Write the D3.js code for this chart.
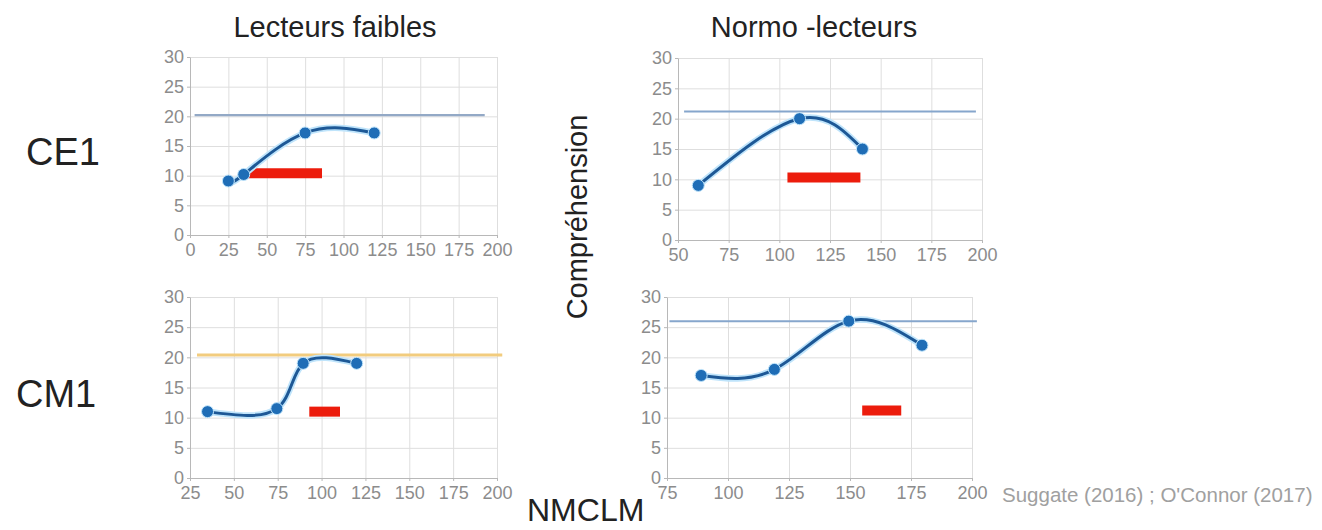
<!DOCTYPE html>
<html>
<head>
<meta charset="utf-8">
<script src="https://cdn.jsdelivr.net/npm/d3@7"></script>
<style>
  body { margin: 0; background: #fff; }
  svg { font-family: "Liberation Sans", Arial, sans-serif; }
  .axis text { fill: #8c8c8c; font-size: 18px; }
  .axis path, .axis line { stroke: #b8b8b8; }
  .grid line { stroke: #dedede; }
  .grid path { display: none; }
</style>
</head>
<body>
<div id="chart"></div>
<script>
// ---- data ----
var colTitles = ["Lecteurs faibles", "Normo -lecteurs"];
var rowLabels = ["CE1", "CM1"];
var yTicks = [0, 5, 10, 15, 20, 25, 30];

// CE1 - lecteurs faibles
var ticksCe1Faibles = [0, 25, 50, 75, 100, 125, 150, 175, 200];
var ce1FaiblesX = [25, 35, 75, 120];
var ce1FaiblesY = [9.1, 10.2, 17.2, 17.2];
var refCe1FaiblesX = [3, 192];
var refCe1FaiblesY = [20.2, 20.2];
var barCe1FaiblesX = [38, 86];
var barCe1FaiblesY = [10.4, 10.4];

// CE1 - normo-lecteurs
var ticksCe1Normo = [50, 75, 100, 125, 150, 175, 200];
var ce1NormoX = [60, 110, 141];
var ce1NormoY = [9, 20, 15];
var refCe1NormoX = [53, 197];
var refCe1NormoY = [21.2, 21.2];
var barCe1NormoX = [104, 140];
var barCe1NormoY = [10.3, 10.3];

// CM1 - lecteurs faibles
var ticksCm1Faibles = [25, 50, 75, 100, 125, 150, 175, 200];
var cm1FaiblesX = [35, 74.5, 89.5, 120];
var cm1FaiblesY = [11, 11.5, 19, 19];
var refCm1FaiblesX = [29, 203];
var refCm1FaiblesY = [20.4, 20.4];
var barCm1FaiblesX = [93, 110.5];
var barCm1FaiblesY = [11, 11];

// CM1 - normo-lecteurs
var ticksCm1Normo = [75, 100, 125, 150, 175, 200];
var cm1NormoX = [89, 119, 149.5, 179.5];
var cm1NormoY = [17, 18, 26, 22];
var refCm1NormoX = [76, 202];
var refCm1NormoY = [26, 26];
var barCm1NormoX = [155, 171];
var barCm1NormoY = [11.2, 11.2];

// ---- layout ----
var svgWidth = 1322;
var svgHeight = 530;

var svg = d3.select("#chart")
  .append("svg")
  .attr("width", svgWidth)
  .attr("height", svgHeight);

function zip(xs, ys) {
  return xs.map(function(x, i) { return { x: x, y: ys[i] }; });
}

var panels = [
  { box: [190, 497, 57, 235], ticks: ticksCe1Faibles, pts: zip(ce1FaiblesX, ce1FaiblesY),
    ref: zip(refCe1FaiblesX, refCe1FaiblesY), refColor: "#93a9c6", refWidth: 2.2,
    bar: zip(barCe1FaiblesX, barCe1FaiblesY) },
  { box: [678, 982, 58, 240], ticks: ticksCe1Normo, pts: zip(ce1NormoX, ce1NormoY),
    ref: zip(refCe1NormoX, refCe1NormoY), refColor: "#86a6cc", refWidth: 2,
    bar: zip(barCe1NormoX, barCe1NormoY) },
  { box: [190, 497, 297, 478], ticks: ticksCm1Faibles, pts: zip(cm1FaiblesX, cm1FaiblesY),
    ref: zip(refCm1FaiblesX, refCm1FaiblesY), refColor: "#f2cc7e", refWidth: 3,
    bar: zip(barCm1FaiblesX, barCm1FaiblesY) },
  { box: [667, 972, 297, 478], ticks: ticksCm1Normo, pts: zip(cm1NormoX, cm1NormoY),
    ref: zip(refCm1NormoX, refCm1NormoY), refColor: "#86a6cc", refWidth: 2,
    bar: zip(barCm1NormoX, barCm1NormoY) }
];

panels.forEach(function(p) {
  var x = d3.scaleLinear()
    .domain([p.ticks[0], p.ticks[p.ticks.length - 1]])
    .range([p.box[0], p.box[1]]);
  var y = d3.scaleLinear()
    .domain([0, 30])
    .range([p.box[3], p.box[2]]);
  var w = p.box[1] - p.box[0];
  var h = p.box[3] - p.box[2];

  var g = svg.append("g");

  // grid
  g.append("g")
    .attr("class", "grid")
    .attr("transform", "translate(0," + p.box[3] + ")")
    .call(d3.axisBottom(x).tickValues(p.ticks).tickSize(-h).tickFormat(""));
  g.append("g")
    .attr("class", "grid")
    .attr("transform", "translate(" + p.box[0] + ",0)")
    .call(d3.axisLeft(y).tickValues(yTicks).tickSize(-w).tickFormat(""));

  // axes
  g.append("g")
    .attr("class", "axis")
    .attr("transform", "translate(0," + p.box[3] + ")")
    .call(d3.axisBottom(x).tickValues(p.ticks).tickSize(3).tickSizeOuter(0).tickPadding(5));
  g.append("g")
    .attr("class", "axis")
    .attr("transform", "translate(" + p.box[0] + ",0)")
    .call(d3.axisLeft(y).tickValues(yTicks).tickSize(3).tickSizeOuter(0).tickPadding(3));

  // reference line
  g.append("line")
    .attr("x1", x(p.ref[0].x)).attr("x2", x(p.ref[1].x))
    .attr("y1", y(p.ref[0].y)).attr("y2", y(p.ref[1].y))
    .attr("stroke", p.refColor)
    .attr("stroke-width", p.refWidth);

  // red bar
  g.append("line")
    .attr("x1", x(p.bar[0].x)).attr("x2", x(p.bar[1].x))
    .attr("y1", y(p.bar[0].y)).attr("y2", y(p.bar[1].y))
    .attr("stroke", "#ec1c0c")
    .attr("stroke-width", 10);

  // smoothed curve with a light halo
  var line = d3.line()
    .x(function(d) { return x(d.x); })
    .y(function(d) { return y(d.y); })
    .curve(d3.curveNatural);

  g.append("path")
    .datum(p.pts)
    .attr("d", line)
    .attr("fill", "none")
    .attr("stroke", "#bfe4fb")
    .attr("stroke-width", 6.5);
  g.append("path")
    .datum(p.pts)
    .attr("d", line)
    .attr("fill", "none")
    .attr("stroke", "#1d5896")
    .attr("stroke-width", 3);

  g.selectAll("circle")
    .data(p.pts)
    .enter()
    .append("circle")
    .attr("cx", function(d) { return x(d.x); })
    .attr("cy", function(d) { return y(d.y); })
    .attr("r", 6)
    .attr("fill", "#1f6db6")
    .attr("stroke", "#bfe4fb")
    .attr("stroke-width", 1);
});

// titles and labels
svg.append("text")
  .attr("x", 335).attr("y", 37)
  .attr("text-anchor", "middle")
  .attr("font-size", 29)
  .attr("fill", "#222")
  .text(colTitles[0]);
svg.append("text")
  .attr("x", 814).attr("y", 37)
  .attr("text-anchor", "middle")
  .attr("font-size", 29)
  .attr("fill", "#222")
  .text(colTitles[1]);

svg.append("text")
  .attr("x", 26).attr("y", 165)
  .attr("font-size", 38)
  .attr("fill", "#222")
  .text(rowLabels[0]);
svg.append("text")
  .attr("x", 16).attr("y", 407)
  .attr("font-size", 38)
  .attr("fill", "#222")
  .text(rowLabels[1]);

svg.append("text")
  .attr("transform", "translate(587,217) rotate(-90)")
  .attr("text-anchor", "middle")
  .attr("font-size", 29)
  .attr("fill", "#222")
  .text("Compréhension");

svg.append("text")
  .attr("x", 527).attr("y", 521)
  .attr("font-size", 32)
  .attr("fill", "#222")
  .text("NMCLM");

svg.append("text")
  .attr("x", 1002).attr("y", 502)
  .attr("font-size", 20.5)
  .attr("fill", "#a0a0a0")
  .text("Suggate (2016) ; O'Connor (2017)");
</script>
</body>
</html>
